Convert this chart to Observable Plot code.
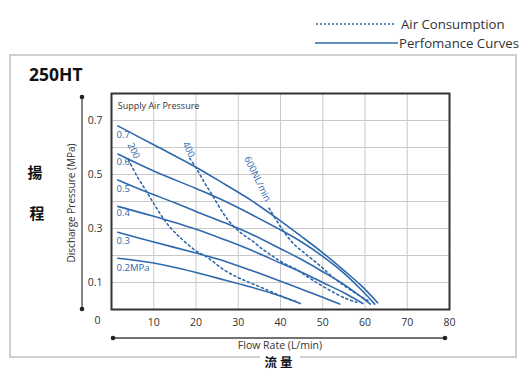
<!DOCTYPE html>
<html>
<head>
<meta charset="utf-8">
<script src="https://cdn.jsdelivr.net/npm/d3@7"></script>
<script src="https://cdn.jsdelivr.net/npm/@observablehq/plot@0.6"></script>
<style>
  html, body { margin: 0; padding: 0; background: #fff; }
  #wrap { position: relative; width: 527px; height: 371px; font-family: "Open Sans", sans-serif; color: #333; }
  #wrap > svg.plot { position: absolute; left: 0; top: 0; }
  #deco { position: absolute; left: 0; top: 0; pointer-events: none; }
</style>
</head>
<body>
<div id="wrap"></div>
<script>
// ---- data ----
const modelName = "250HT";
const xTicks = [10, 20, 30, 40, 50, 60, 70, 80];
const yTicks = [0.1, 0.3, 0.5, 0.7];
const supplyLabels = ["0.7", "0.6", "0.5", "0.4", "0.3", "0.2MPa"];
const supplyLabelY = [0.646, 0.547, 0.448, 0.356, 0.253, 0.154];

// performance curves (flow L/min, discharge MPa)
const perf07 = [[1.5,0.68],[10,0.61],[20,0.527],[27,0.462],[33,0.405],[39.5,0.334],[45,0.27],[50,0.21],[55,0.145],[59,0.09],[63,0.025]];
const perf06 = [[1.5,0.576],[10,0.513],[20,0.448],[27,0.40],[33,0.353],[40,0.295],[45,0.25],[50,0.197],[55,0.135],[59,0.075],[62.3,0.02]];
const perf05 = [[1.5,0.48],[7.6,0.44],[15,0.395],[20,0.363],[27,0.32],[33,0.28],[40,0.225],[45,0.185],[50,0.14],[55,0.093],[61.3,0.02]];
const perf04 = [[1.5,0.382],[10,0.345],[20,0.297],[27,0.257],[33,0.22],[40,0.172],[45,0.138],[50,0.1],[55,0.062],[59.5,0.022]];
const perf03 = [[1.5,0.286],[10,0.25],[20,0.209],[27,0.178],[33,0.145],[40,0.105],[45,0.075],[50,0.045],[54,0.02]];
const perf02 = [[1.5,0.19],[10,0.172],[20,0.137],[27,0.108],[33,0.083],[40,0.05],[44.7,0.022]];

// air consumption curves (NL/min)
const air200 = [[4,0.555],[6,0.495],[8,0.444],[9.7,0.40],[11.5,0.355],[13.3,0.315],[16,0.27],[20,0.217],[22.2,0.198],[27,0.143],[30,0.118],[33.4,0.095],[37.2,0.07],[40.7,0.046],[44,0.028]];
const air400 = [[18.5,0.56],[20,0.525],[22,0.47],[24,0.42],[26.5,0.355],[28.2,0.32],[31,0.279],[33.4,0.253],[35.7,0.224],[38.1,0.198],[40.7,0.172],[43.5,0.15],[47,0.115],[51,0.077],[55,0.044],[58,0.027]];
const air600 = [[37.3,0.375],[40.5,0.295],[43,0.245],[46,0.205],[49.5,0.16],[53,0.112],[57,0.068],[61,0.03]];
const airLabels = ["200", "400", "600NL/min"];
const airLabelX = [4.4, 17.4, 32.0];
const airLabelY = [0.615, 0.62, 0.565];

const legendItems = ["Air Consumption", "Perfomance Curves"];
const yTitle = "Discharge Pressure (MPa)";
const xTitle = "Flow Rate (L/min)";
const yTitleCN = ["揚", "程"];
const xTitleCN = "流量";

// ---- chart ----
const blue = "#2f68ad";
const toObj = (arr, name) => arr.map(([x, y]) => ({x, y, name}));
const perfSeries = [perf07, perf06, perf05, perf04, perf03, perf02];
const airSeries = [air200, air400, air600];

const chart = Plot.plot({
  width: 527,
  height: 371,
  marginLeft: 111,
  marginRight: 78,
  marginTop: 93,
  marginBottom: 62,
  x: {domain: [0, 80]},
  y: {domain: [0, 0.8]},
  style: {fontFamily: "'Open Sans', sans-serif", fontSize: "10px", color: "#333", background: "transparent"},
  marks: [
    Plot.gridX(d3.range(10, 80, 10), {stroke: "#c9c9c9", strokeOpacity: 1, strokeWidth: 1}),
    Plot.gridY(d3.range(1, 8).map(d => d / 10), {stroke: "#c9c9c9", strokeOpacity: 1, strokeWidth: 1}),
    Plot.axisY({ticks: yTicks, tickSize: 0, tickPadding: 9, tickFormat: d3.format(".1f"), label: null, fontSize: 10.5}),
    Plot.axisX({ticks: xTicks, tickSize: 0, tickPadding: 9, label: null, fontSize: 10.5}),
    Plot.text([0], {x: 0, y: 0, text: () => "0", dx: -14, dy: 11, fontSize: 10.5, fill: "#333"}),
    ...airSeries.map((s, i) => Plot.line(toObj(s, airLabels[i]), {x: "x", y: "y", stroke: blue, strokeWidth: 1.6, strokeDasharray: "2,3", curve: "catmull-rom"})),
    ...perfSeries.map((s, i) => Plot.line(toObj(s, supplyLabels[i]), {x: "x", y: "y", stroke: blue, strokeWidth: 1.6, curve: "catmull-rom"})),
    Plot.text(supplyLabels, {x: () => 1.2, y: (d, i) => supplyLabelY[i], text: d => d, textAnchor: "start", fill: blue, fontSize: 9.5}),
    Plot.text(airLabels, {x: (d, i) => airLabelX[i], y: (d, i) => airLabelY[i], text: d => d, textAnchor: "start", rotate: 64, fill: blue, fontSize: 9.5}),
    Plot.text(["Supply Air Pressure"], {x: () => 1.5, y: () => 0.752, text: d => d, textAnchor: "start", fill: "#333", fontSize: 9}),
    Plot.frame({stroke: "#333", strokeWidth: 2})
  ]
});
chart.classList.add("plot");
const wrap = document.getElementById("wrap");
wrap.appendChild(chart);

// ---- decorations ----
const deco = d3.select(wrap).append("svg").attr("id", "deco").attr("width", 527).attr("height", 371);
// outer box with a gap for bottom label
deco.append("path")
  .attr("d", "M260,357 H10 V55 H516 V357 H300")
  .attr("fill", "none").attr("stroke", "#cfcfcf").attr("stroke-width", 2);
// title
deco.append("text").attr("x", 29).attr("y", 81).attr("font-family", "'Open Sans', sans-serif")
  .attr("font-weight", 700).attr("font-size", 17.5).attr("fill", "#111").text(modelName);
// legend
deco.append("line").attr("x1", 316).attr("x2", 396).attr("y1", 24).attr("y2", 24)
  .attr("stroke", blue).attr("stroke-width", 1.6).attr("stroke-dasharray", "2,2");
deco.append("line").attr("x1", 315).attr("x2", 398).attr("y1", 43).attr("y2", 43)
  .attr("stroke", blue).attr("stroke-width", 1.6);
legendItems.forEach((t, i) => {
  deco.append("text").attr("x", i === 0 ? 401 : 399).attr("y", i === 0 ? 28.5 : 47.5)
    .attr("font-family", "'Open Sans', sans-serif").attr("font-size", 13.2).attr("fill", "#333").text(t);
});
// y axis line with dots
deco.append("line").attr("x1", 82).attr("x2", 82).attr("y1", 97).attr("y2", 309).attr("stroke", "#444").attr("stroke-width", 1.3);
deco.append("circle").attr("cx", 82).attr("cy", 97).attr("r", 2.3).attr("fill", "#222");
deco.append("circle").attr("cx", 82).attr("cy", 309).attr("r", 2.3).attr("fill", "#222");
// x axis line with dots
deco.append("line").attr("x1", 113).attr("x2", 445).attr("y1", 338).attr("y2", 338).attr("stroke", "#444").attr("stroke-width", 1.3);
deco.append("circle").attr("cx", 113).attr("cy", 338).attr("r", 2.3).attr("fill", "#222");
deco.append("circle").attr("cx", 445).attr("cy", 338).attr("r", 2.3).attr("fill", "#222");
// axis titles
deco.append("text").attr("transform", "translate(75,203) rotate(-90)").attr("text-anchor", "middle")
  .attr("font-family", "'Open Sans', sans-serif").attr("font-size", 10).attr("fill", "#333").text(yTitle);
deco.append("text").attr("x", 280).attr("y", 349).attr("text-anchor", "middle")
  .attr("font-family", "'Open Sans', sans-serif").attr("font-size", 10.5).attr("fill", "#333").text(xTitle);
// Chinese labels
deco.append("text").attr("x", 35).attr("y", 178).attr("text-anchor", "middle")
  .attr("font-family", "'Noto Sans CJK TC', sans-serif").attr("font-weight", 700).attr("font-size", 15).attr("fill", "#111").text(yTitleCN[0]);
deco.append("text").attr("x", 37).attr("y", 219).attr("text-anchor", "middle")
  .attr("font-family", "'Noto Sans CJK TC', sans-serif").attr("font-weight", 700).attr("font-size", 15).attr("fill", "#111").text(yTitleCN[1]);
deco.append("text").attr("x", 280).attr("y", 367).attr("text-anchor", "middle").attr("letter-spacing", 3)
  .attr("font-family", "'Noto Sans CJK TC', sans-serif").attr("font-weight", 700).attr("font-size", 12.5).attr("fill", "#111").text(xTitleCN);
</script>
</body>
</html>
